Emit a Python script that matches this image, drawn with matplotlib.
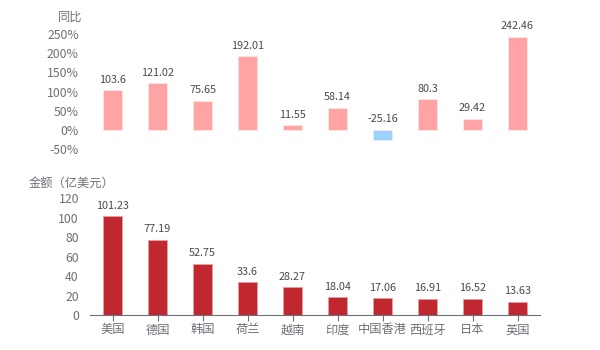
import numpy as np
import matplotlib
matplotlib.use("Agg")
import matplotlib.pyplot as plt

plt.rcParams['font.family'] = ['Noto Sans CJK SC', 'DejaVu Sans']

# ---------------------------------------------------------------- data
countries = ['美国', '德国', '韩国', '荷兰', '越南', '印度', '中国香港', '西班牙', '日本', '英国']
amount = [101.23, 77.19, 52.75, 33.6, 28.27, 18.04, 17.06, 16.91, 16.52, 13.63]
yoy = [103.6, 121.02, 75.65, 192.01, 11.55, 58.14, -25.16, 80.3, 29.42, 242.46]

amount_ticks = [0, 20, 40, 60, 80, 100, 120]
yoy_ticks = [-50, 0, 50, 100, 150, 200, 250]

# ---------------------------------------------------------------- style
grey = '#6e7079'
label_c = '#4a4a4a'
pos_c = '#ffa3a5'
neg_c = '#99d2fd'
bar_c = '#c0272f'

fig = plt.figure(figsize=(6, 3.5), dpi=100)
ax1 = fig.add_axes([0.15, 0.574, 0.75, 0.329])
ax2 = fig.add_axes([0.15, 0.1, 0.75, 0.334])

x = np.arange(len(countries))
w = 0.44

# ---------------------------------------------------------------- top: 同比
cols = [pos_c if v >= 0 else neg_c for v in yoy]
ax1.bar(x, yoy, width=w, color=cols, edgecolor='#ffe6e6', linewidth=0.6)
for xi, v in zip(x, yoy):
    ax1.annotate(f'{v:g}', (xi, max(v, 0)), xytext=(0, 4), textcoords='offset points',
                 ha='center', va='bottom', fontsize=7.8, color=label_c)
ax1.set_xlim(-0.5, len(countries) - 0.5)
ax1.set_ylim(yoy_ticks[0], yoy_ticks[-1])
ax1.set_yticks(yoy_ticks)
ax1.set_yticklabels([f'{t}%' for t in yoy_ticks])
ax1.set_xticks([])
for s in ax1.spines.values():
    s.set_visible(False)
ax1.tick_params(axis='y', length=0, pad=8, labelsize=8.8, labelcolor=grey)
fig.text(0.137, 0.951, '同比', ha='right', va='center', fontsize=8.8, color=grey)

# ---------------------------------------------------------------- bottom: 金额
ax2.bar(x, amount, width=w, color=bar_c, edgecolor='#e8a0a4', linewidth=0.6)
for xi, v in zip(x, amount):
    ax2.annotate(f'{v:g}', (xi, v), xytext=(0, 4), textcoords='offset points',
                 ha='center', va='bottom', fontsize=7.8, color=label_c)
ax2.set_xlim(-0.5, len(countries) - 0.5)
ax2.set_ylim(0, 120)
ax2.set_yticks(amount_ticks)
ax2.set_xticks(x)
ax2.set_xticklabels(countries)
for k in ['top', 'right', 'left']:
    ax2.spines[k].set_visible(False)
ax2.spines['bottom'].set_color(grey)
ax2.tick_params(axis='y', length=0, pad=8, labelsize=8.8, labelcolor=grey)
ax2.tick_params(axis='x', length=4, color=grey, pad=2, labelsize=8.8, labelcolor=grey)
fig.text(0.047, 0.477, '金额（亿美元）', ha='left', va='center', fontsize=8.8, color=grey)

plt.savefig('out.png', dpi=100)
